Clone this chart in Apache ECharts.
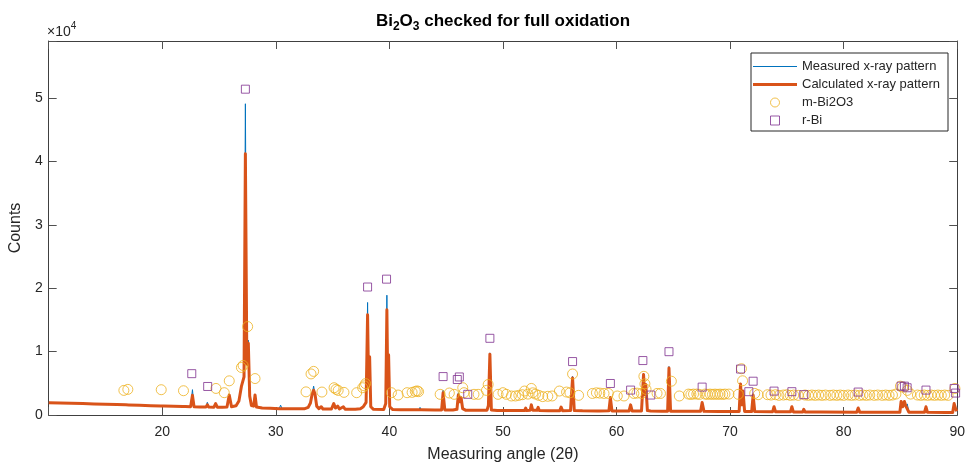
<!DOCTYPE html>
<html><head><meta charset="utf-8">
<script src="https://cdn.jsdelivr.net/npm/echarts@6/dist/echarts.min.js"></script>
<style>html,body{margin:0;padding:0;background:#fff}#c{width:968px;height:468px}</style>
</head><body><div id="c"></div>
<script>
// ---- data ----
const xTickValues = [20, 30, 40, 50, 60, 70, 80, 90];
const yTickLabels = ['0', '1', '2', '3', '4', '5'];
const seriesNames = ['Measured x-ray pattern', 'Calculated x-ray pattern', 'm-Bi2O3', 'r-Bi'];

const calcLine = [
[10.0,1950],[11,1900],[12,1850],[13,1800],[14,1740],[15,1690],[16,1640],[16.8,1600],[16.92,1750],[17.05,1590],
[18,1530],[19,1470],[19.88,1420],[20.0,1560],[20.12,1410],[21,1370],[21.8,1340],[21.92,1500],[22.04,1330],[22.5,1320],
[22.66,3100],[22.8,1310],[23.3,1280],[23.85,1260],[23.97,1600],[24.1,1250],[24.55,1240],[24.7,1800],[24.85,1240],[25.3,1230],
[25.7,1250],[25.9,3150],[26.1,1300],[26.5,1450],[26.75,2200],[26.97,4500],[27.2,6000],[27.32,41200],[27.45,8000],[27.58,11300],
[27.7,3000],[27.85,1500],[28.05,1400],[28.17,3150],[28.3,1250],[28.8,1100],[29.5,1050],[30.3,1000],[30.42,1050],[30.55,1000],
[31.5,980],[32.5,970],[32.85,1200],[33.05,1900],[33.2,3300],[33.33,3900],[33.45,3300],[33.6,1400],[33.8,1000],[34.0,1300],
[34.15,950],[34.9,950],[35.1,1800],[35.25,1100],[35.45,1400],[35.6,950],[35.95,1300],[36.1,920],[37.0,920],[37.45,1000],
[37.7,1300],[37.95,2000],[38.08,15800],[38.17,4500],[38.26,9200],[38.36,1300],[38.6,900],[39.5,880],[39.68,1800],[39.78,16600],
[39.86,4200],[39.93,9500],[40.03,1300],[40.3,850],[41.0,830],[41.95,830],[42.05,1050],[42.15,820],[42.6,820],[42.7,1100],
[42.8,810],[44.0,790],[44.6,800],[44.73,3500],[44.88,800],[45.6,780],[45.95,900],[46.07,3150],[46.2,2100],[46.32,2700],
[46.45,1000],[46.7,760],[47.5,750],[48.6,760],[48.72,1500],[48.85,9600],[48.98,800],[49.5,720],[49.95,700],[50.07,950],
[50.2,700],[51.0,700],[51.9,700],[52.0,1100],[52.1,700],[52.4,750],[52.5,1600],[52.62,750],[53.0,730],[53.1,1200],
[53.2,700],[54.0,690],[55.0,680],[55.12,1250],[55.25,680],[55.95,700],[56.13,5850],[56.28,700],[57.0,660],[58.3,650],
[58.4,950],[58.5,650],[59.33,660],[59.46,2750],[59.6,650],[60.5,630],[61.1,630],[61.24,1600],[61.38,620],[62.2,650],
[62.38,6370],[62.48,3200],[62.58,4800],[62.72,700],[63.0,620],[64.0,600],[64.5,610],[64.62,7400],[64.76,600],[66.0,580],
[67.4,580],[67.54,1970],[67.7,580],[69.0,560],[70.8,560],[70.92,4900],[71.02,1600],[71.14,3800],[71.28,560],[71.9,550],
[72.03,3150],[72.17,550],[73.75,520],[73.87,1300],[74.0,510],[75.32,500],[75.44,1300],[75.57,490],[76.4,490],[76.49,900],
[76.6,480],[78.0,470],[81.15,450],[81.28,1100],[81.42,450],[83.0,440],[84.95,440],[85.06,2130],[85.2,1300],[85.35,2130],
[85.48,1400],[85.6,1700],[85.75,440],[86.5,430],[87.12,420],[87.25,1300],[87.38,420],[89.0,410],[89.6,410],[89.73,1800],
[89.86,1000],[89.95,600]
];

const measLine = [
[10.0,1950],[11,1900],[12,1850],[13,1800],[14,1740],[15,1690],[16,1640],[16.8,1600],[16.92,1750],[17.05,1590],
[18,1530],[19,1470],[19.88,1420],[20.0,1600],[20.12,1410],[21,1370],[21.8,1340],[21.92,1550],[22.04,1330],[22.5,1320],
[22.66,4000],[22.8,1310],[23.3,1280],[23.85,1260],[23.97,2000],[24.1,1250],[24.55,1240],[24.7,1850],[24.85,1240],[25.3,1230],
[25.7,1250],[25.9,3200],[26.1,1300],[26.5,1450],[26.75,2200],[26.97,4600],[27.2,6000],[27.32,49100],[27.45,8000],[27.58,11800],
[27.7,3000],[27.85,1500],[28.05,1400],[28.17,3200],[28.3,1250],[28.8,1100],[29.5,1050],[30.3,1000],[30.42,1550],[30.55,1000],
[31.5,980],[32.5,970],[32.85,1200],[33.05,1900],[33.2,3300],[33.33,4550],[33.45,3300],[33.6,1400],[33.8,900],[34.0,1300],
[34.15,900],[34.9,950],[35.1,1900],[35.25,1100],[35.45,1400],[35.6,950],[35.95,1300],[36.1,920],[37.0,920],[37.45,1000],
[37.7,1300],[37.95,2000],[38.08,17750],[38.17,4500],[38.26,9200],[38.36,1300],[38.6,900],[39.5,880],[39.68,1800],[39.78,18900],
[39.86,4200],[39.93,9500],[40.03,1300],[40.3,850],[41.0,830],[41.95,830],[42.05,1050],[42.15,820],[42.6,820],[42.7,1200],
[42.8,810],[44.0,790],[44.6,800],[44.73,3900],[44.88,800],[45.6,780],[45.95,900],[46.07,3500],[46.2,2100],[46.32,2900],
[46.45,1000],[46.7,760],[47.5,750],[48.6,760],[48.72,1500],[48.85,9800],[48.98,800],[49.5,720],[49.95,700],[50.07,1000],
[50.2,700],[51.0,700],[51.9,700],[52.0,1150],[52.1,700],[52.4,750],[52.5,1750],[52.62,750],[53.0,730],[53.1,1250],
[53.2,700],[54.0,690],[55.0,680],[55.12,1250],[55.25,680],[55.95,700],[56.13,6100],[56.28,700],[57.0,660],[58.3,650],
[58.4,950],[58.5,650],[59.33,660],[59.46,2850],[59.6,650],[60.5,630],[61.1,630],[61.24,1650],[61.38,620],[62.2,650],
[62.38,6600],[62.48,3200],[62.58,4900],[62.72,700],[63.0,620],[64.0,600],[64.5,610],[64.62,7650],[64.76,600],[66.0,580],
[67.4,580],[67.54,2000],[67.7,580],[69.0,560],[70.8,560],[70.92,5050],[71.02,1600],[71.14,3850],[71.28,560],[71.9,550],
[72.03,3200],[72.17,550],[73.75,520],[73.87,1350],[74.0,510],[75.32,500],[75.44,1350],[75.57,490],[76.4,490],[76.49,950],
[76.6,480],[78.0,470],[81.15,450],[81.28,1150],[81.42,450],[83.0,440],[84.95,440],[85.06,2250],[85.2,1300],[85.35,2200],
[85.48,1400],[85.6,1750],[85.75,440],[86.5,430],[87.12,420],[87.25,1350],[87.38,420],[89.0,410],[89.6,410],[89.73,1900],
[89.86,1000],[89.95,600]
];

const mBi2O3 = [
[16.62,3880],[16.97,4040],[19.91,3990],[21.87,3830],[24.73,4190],[25.46,3520],[25.9,5390],[26.97,7500],[27.12,7810],[27.52,13950],
[28.17,5750],[32.66,3650],[33.1,6480],[33.33,6880],[34.06,3620],[35.13,4300],[35.3,4050],[35.49,3880],[36.0,3570],[37.12,3520],
[37.65,4300],[37.8,4600],[37.9,4950],[40.18,3520],[40.77,3150],[41.56,3520],[42.0,3570],[42.28,3730],[42.45,3800],[42.57,3680],
[44.47,3260],[45.28,3470],[45.7,3260],[46.46,4300],[46.57,3520],[47.45,3260],[47.82,3260],[48.55,3880],[48.7,4810],[49.57,3260],
[50.0,3520],[50.3,3260],[50.74,3000],[51.1,3000],[51.4,3100],[51.7,3200],[51.9,3780],[52.2,3300],[52.5,4190],[52.62,3500],
[52.87,3300],[53.16,3100],[53.5,2900],[53.95,2950],[54.33,3000],[54.97,3780],[55.6,3620],[55.9,3500],[56.13,6470],[56.66,3100],
[57.88,3400],[58.23,3500],[58.53,3450],[58.9,3400],[59.28,3400],[60.07,3000],[60.66,3000],[61.53,3400],[61.8,3450],[62.2,3400],
[62.41,6100],[62.5,4920],[62.6,4040],[63.57,3400],[63.87,3400],[64.83,5330],[65.53,3000],[66.34,3300],[66.55,3250],[66.78,3300],
[67.07,3300],[67.3,3250],[67.8,3300],[68.0,3250],[68.24,3300],[68.45,3250],[68.68,3300],[68.9,3250],[69.12,3300],[69.35,3250],
[69.55,3300],[69.9,3300],[70.72,3260],[71.0,7300],[71.1,5400],[72.17,3400],[72.47,3200],[73.3,3200],[73.6,3150],[74.0,3200],
[74.3,3100],[74.7,3150],[75.0,3200],[75.3,3100],[75.6,3150],[76.0,3100],[76.6,3150],[76.9,3100],[77.2,3150],[77.5,3100],
[77.8,3150],[78.1,3100],[78.4,3150],[78.8,3100],[79.1,3150],[79.4,3100],[79.7,3150],[80.0,3100],[80.4,3150],[80.7,3100],
[81.0,3150],[81.4,3100],[81.7,3150],[82.0,3100],[82.3,3150],[82.7,3100],[83.0,3150],[83.4,3100],[83.7,3150],[84.0,3100],
[84.3,3150],[84.6,3300],[85.0,4550],[85.2,4400],[85.6,3880],[85.9,3300],[86.5,3150],[86.8,3100],[87.1,3150],[87.4,3100],
[87.7,3150],[88.0,3100],[88.3,3150],[88.6,3100],[88.9,3150],[89.2,3100],[89.8,4190]
];

const rBi = [
[22.6,6520],[24.0,4500],[27.32,51400],[38.08,20190],[39.75,21430],[44.73,6060],[45.98,5600],[46.16,6000],[46.9,3260],[48.85,12100],
[56.13,8430],[59.46,4970],[61.24,3930],[62.32,8590],[63.02,3150],[64.62,9990],[67.54,4400],[70.92,7250],[71.65,3680],[72.03,5330],
[73.87,3770],[75.44,3680],[76.49,3210],[81.28,3620],[85.06,4550],[85.35,4550],[85.59,4300],[87.25,3930],[89.73,4190],[89.86,3460]
];

// ---- chart ----
const FONT = '"Liberation Sans", Arial, Helvetica, sans-serif';
const AX = '#262626';
const COLORS = ['#0072BD', '#D95319', '#EDB120', '#7E2F8E'];
const chart = echarts.init(document.getElementById('c'), null, {renderer: 'canvas'});

const boxAxisCommon = {
  axisLine: {show: true, onZero: false, lineStyle: {color: '#404040', width: 1}},
  axisTick: {show: true, inside: true, length: 8, lineStyle: {color: '#505050', width: 1}},
  splitLine: {show: false}
};

const option = {
  animation: false,
  backgroundColor: '#ffffff',
  textStyle: {fontFamily: FONT},
  grid: {left: 46, right: 8, top: 41, bottom: 47, containLabel: false},
  graphic: [
    {
      type: 'text', x: 503, y: 9, z: 10,
      style: {
        text: '{a|Bi}{s|2}{a|O}{s|3}{a| checked for full oxidation}',
        textAlign: 'center', fill: '#000',
        rich: {
          a: {fontSize: 17, fontWeight: 'bold', fontFamily: FONT, lineHeight: 24, verticalAlign: 'middle', fill: '#000'},
          s: {fontSize: 12, fontWeight: 'bold', fontFamily: FONT, lineHeight: 24, verticalAlign: 'bottom', fill: '#000'}
        }
      }
    },
    {
      type: 'text', x: 47, y: 21, z: 10,
      style: {
        text: '{a|\u00d710}{b|4}',
        fill: AX,
        rich: {
          a: {fontSize: 14, fontFamily: FONT, lineHeight: 18, verticalAlign: 'bottom', fill: AX},
          b: {fontSize: 10, fontFamily: FONT, lineHeight: 18, verticalAlign: 'top', fill: AX}
        }
      }
    }
  ],
  legend: {
    orient: 'vertical', left: 751, top: 53,
    padding: [7, 8, 4, 2],
    itemWidth: 44, itemHeight: 9, itemGap: 5,
    borderColor: AX, borderWidth: 1, backgroundColor: '#fff',
    selectedMode: false,
    textStyle: {fontSize: 13, color: AX, fontFamily: FONT},
    data: [
      {name: seriesNames[0], icon: 'path://M0,0 H44 V1 H0 Z', itemStyle: {color: COLORS[0], borderWidth: 0}},
      {name: seriesNames[1], icon: 'path://M0,0 H44 V3 H0 Z', itemStyle: {color: COLORS[1], borderWidth: 0}},
      {name: seriesNames[2], icon: 'circle', itemStyle: {color: 'rgba(255,255,255,0)', borderColor: COLORS[2], borderWidth: 1}},
      {name: seriesNames[3], icon: 'path://M0,0 H8 V8 H0 Z', itemStyle: {color: 'rgba(255,255,255,0)', borderColor: COLORS[3], borderWidth: 1}}
    ]
  },
  xAxis: [
    Object.assign({
      type: 'value', min: 10, max: 90, interval: 10, position: 'bottom',
      axisLabel: {margin: 10, fontSize: 14, color: AX, fontFamily: FONT,
        formatter: v => (xTickValues.indexOf(v) >= 0 ? String(v) : '')},
      name: 'Measuring angle (2\u03b8)', nameLocation: 'middle', nameGap: 32,
      nameTextStyle: {fontSize: 16, color: AX, fontFamily: FONT}
    }, boxAxisCommon),
    Object.assign({
      type: 'value', min: 10, max: 90, interval: 10, position: 'top',
      axisLabel: {show: false}
    }, boxAxisCommon)
  ],
  yAxis: [
    Object.assign({
      type: 'value', min: 0, max: 59000, interval: 10000, position: 'left',
      axisLabel: {margin: 6, fontSize: 14, color: AX, fontFamily: FONT,
        formatter: v => (v % 10000 === 0 && v / 10000 < yTickLabels.length ? yTickLabels[v / 10000] : '')},
      name: 'Counts', nameLocation: 'middle', nameGap: 21, nameRotate: 90,
      nameTextStyle: {fontSize: 16, color: AX, fontFamily: FONT}
    }, boxAxisCommon),
    Object.assign({
      type: 'value', min: 0, max: 59000, interval: 10000, position: 'right',
      axisLabel: {show: false}
    }, boxAxisCommon)
  ],
  series: [
    {
      type: 'line', name: seriesNames[0], data: measLine,
      xAxisIndex: 0, yAxisIndex: 0,
      showSymbol: false, symbol: 'none',
      lineStyle: {color: COLORS[0], width: 1, join: 'round'},
      itemStyle: {color: COLORS[0]},
      emphasis: {disabled: true}, z: 2
    },
    {
      type: 'line', name: seriesNames[1], data: calcLine,
      xAxisIndex: 0, yAxisIndex: 0,
      showSymbol: false, symbol: 'none',
      lineStyle: {color: COLORS[1], width: 3, join: 'round'},
      itemStyle: {color: COLORS[1]},
      emphasis: {disabled: true}, z: 3
    },
    {
      type: 'scatter', name: seriesNames[2], data: mBi2O3,
      xAxisIndex: 0, yAxisIndex: 0,
      symbol: 'circle', symbolSize: 10,
      itemStyle: {color: 'rgba(255,255,255,0)', borderColor: COLORS[2], borderWidth: 1},
      emphasis: {disabled: true}, z: 4
    },
    {
      type: 'scatter', name: seriesNames[3], data: rBi,
      xAxisIndex: 0, yAxisIndex: 0,
      symbol: 'rect', symbolSize: 8,
      itemStyle: {color: 'rgba(255,255,255,0)', borderColor: COLORS[3], borderWidth: 1},
      emphasis: {disabled: true}, z: 5
    }
  ]
};
chart.setOption(option);
</script>
</body></html>
